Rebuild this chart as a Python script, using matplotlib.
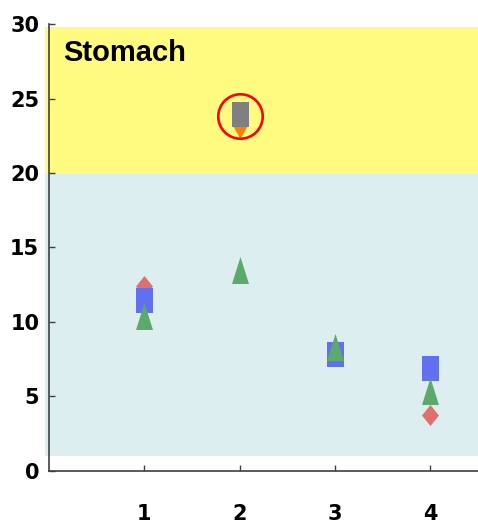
import matplotlib
matplotlib.use("Agg")
import matplotlib.pyplot as plt
import numpy as np

# ─── data ──────────────────────────────────────────────────────────────────
x_ticks = [1, 2, 3, 4]
y_ticks = [0, 5, 10, 15, 20, 25, 30]

red_x = [1, 3, 4]
red_y = [12.4, 8.1, 3.72]
blue_x = [1, 3, 4]
blue_y = [11.46, 7.82, 6.88]
green_x = [1, 2, 3, 4]
green_y = [10.42, 13.48, 8.33, 5.37]
orange_x = [2]
orange_y = [22.85]
gray_x = [2]
gray_y = [23.95]
circle_x = [2]
circle_y = [23.85]

zone_top = (19.9, 29.8)  # yellow band
zone_low = (1.0, 19.9)   # light-blue band
zone_label = "Stomach"

COL = {
    "yellow": "#FFFB80",
    "pale": "#DCEEF0",
    "red": "#E07070",
    "blue": "#6070F0",
    "green": "#5BAA6C",
    "orange": "#FF8000",
    "gray": "#808080",
    "ring": "#FF0000",
    "axis": "#404040",
}

# custom marker shapes (tall rectangle / triangle / diamond)
RECT = [(-8.5, -12.5), (8.5, -12.5), (8.5, 12.5), (-8.5, 12.5), (-8.5, -12.5)]
TRI_UP = [(-8.5, -13.5), (8.5, -13.5), (0, 13.5), (-8.5, -13.5)]
TRI_DN = [(-8.5, 7.5), (8.5, 7.5), (0, -7.5), (-8.5, 7.5)]
DIAM = [(0, 10.5), (8.5, 0), (0, -10.5), (-8.5, 0), (0, 10.5)]

fig = plt.figure(figsize=(4.78, 5.24), dpi=100)
ax = fig.add_axes([0.1025, 0.1017, 0.8975, 0.8523])
ax.set_xlim(0, 4.5)
ax.set_ylim(0, 30)

ax.add_patch(plt.Rectangle((-0.04, zone_top[0]), 4.6, zone_top[1] - zone_top[0],
                           facecolor=COL["yellow"], edgecolor="none",
                           clip_on=False, zorder=0))
ax.add_patch(plt.Rectangle((-0.04, zone_low[0]), 4.6, zone_low[1] - zone_low[0],
                           facecolor=COL["pale"], edgecolor="none",
                           clip_on=False, zorder=0))

ax.text(0.145, 28.05, zone_label, fontsize=21, fontweight="bold",
        family="Liberation Sans", va="center", ha="left")

kw = dict(linestyle="none", markeredgewidth=0, clip_on=False)
ax.plot(red_x, red_y, marker=DIAM, markersize=15.1, color=COL["red"], zorder=3, **kw)
ax.plot(blue_x, blue_y, marker=RECT, markersize=18, color=COL["blue"], zorder=4, **kw)
ax.plot(green_x, green_y, marker=TRI_UP, markersize=19.4, color=COL["green"], zorder=5, **kw)
ax.plot(orange_x, orange_y, marker=TRI_DN, markersize=12.2, color=COL["orange"], zorder=3, **kw)
ax.plot(gray_x, gray_y, marker=RECT, markersize=18, color=COL["gray"], zorder=4, **kw)
ax.plot(circle_x, circle_y, marker="o", markersize=32, markerfacecolor="none",
        markeredgecolor=COL["ring"], markeredgewidth=1.9, linestyle="none", zorder=6)

for side in ("top", "right"):
    ax.spines[side].set_visible(False)
for side in ("left", "bottom"):
    ax.spines[side].set_color(COL["axis"])
    ax.spines[side].set_linewidth(1.2)
    ax.spines[side].set_zorder(2)

ax.set_xticks(x_ticks)
ax.set_yticks(y_ticks)
ax.tick_params(direction="in", length=4, width=1, colors=COL["axis"])
ax.tick_params(axis="x", pad=24)
ax.tick_params(axis="y", pad=7)
for lab in ax.get_xticklabels() + ax.get_yticklabels():
    lab.set_fontfamily("DejaVu Sans")
    lab.set_fontweight("bold")
    lab.set_fontsize(15)
    lab.set_color("black")

fig.savefig("out.png", dpi=100)
